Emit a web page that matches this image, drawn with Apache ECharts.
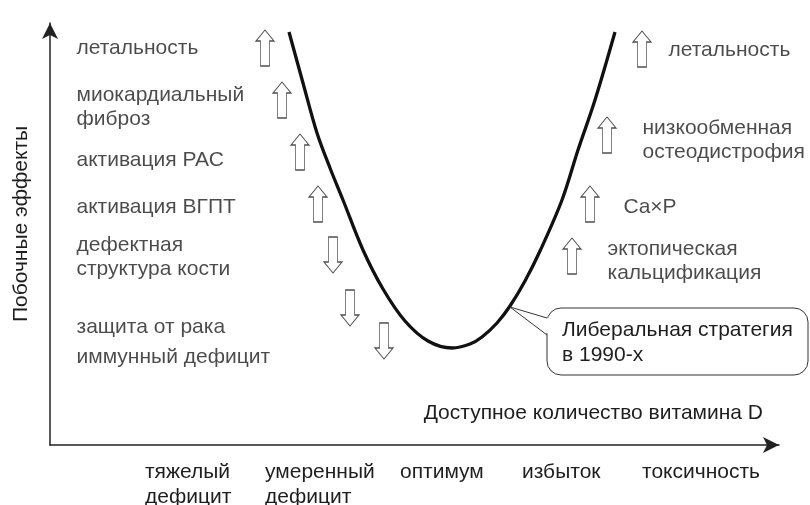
<!DOCTYPE html>
<html>
<head>
<meta charset="utf-8">
<script src="https://cdn.jsdelivr.net/npm/echarts@6/dist/echarts.min.js"></script>
<style>
  html, body { margin: 0; padding: 0; background: #fff; }
  #chart { width: 810px; height: 505px; }
</style>
</head>
<body>
<div id="chart"></div>
<script>
// ---- data (chart units) ----
const curveX = [239, 253, 267, 280, 293, 313, 333, 355, 378, 402, 420, 432, 447, 460, 475, 490, 512, 528, 545, 565];
const curveY = [413, 362, 312, 277, 245, 195, 156, 124, 104, 97, 101, 108, 122, 139, 164, 194, 245, 295, 345, 413];

const upArrowX = [215, 232, 250, 268, 592, 557, 540, 522];
const upArrowY = [397, 345, 293, 241, 396, 310, 241, 189];
const downArrowX = [283, 300, 334];
const downArrowY = [190, 137, 104];

const leftEffects = ['летальность', 'миокардиальный\nфиброз', 'активация РАС', 'активация ВГПТ',
                     'дефектная\nструктура кости', 'защита от рака', 'иммунный дефицит'];
const leftEffectX = [26, 26, 26, 26, 26, 26, 26];
const leftEffectY = [397, 338, 285, 238, 188, 118, 88];

const rightEffects = ['летальность', 'низкообменная\nостеодистрофия', 'Ca×P', 'эктопическая\nкальцификация'];
const rightEffectX = [618, 592, 573, 557];
const rightEffectY = [395, 305, 238, 184];

const tickLabels = ['тяжелый\nдефицит', 'умеренный\nдефицит', 'оптимум', 'избыток', 'токсичность'];
const tickValues = [95, 215, 350, 472, 592];

const xTitle = 'Доступное количество витамина D';
const yTitle = 'Побочные эффекты';
const calloutText = 'Либеральная стратегия\nв 1990-х';

// ---- chart ----
const FONT = '"Liberation Sans", Arial, sans-serif';
const FS = 21;
const TXT = '#1e1e1e';
const zip = (a, b) => a.map((v, i) => [v, b[i]]);

const UP = 'path://M9,0L18,11L13.5,11L13.5,36L4.5,36L4.5,11L0,11Z';
const DOWN = 'path://M4.5,0L13.5,0L13.5,25L18,25L9,36L0,25L4.5,25Z';

const chart = echarts.init(document.getElementById('chart'), null, { renderer: 'canvas' });

const textSeries = (names, xs, ys) => ({
  type: 'scatter',
  symbolSize: 1,
  itemStyle: { color: 'transparent' },
  silent: true,
  data: names.map((n, i) => ({ value: [xs[i], ys[i]], name: n })),
  label: {
    show: true, position: 'right', distance: 0,
    formatter: p => p.name,
    fontFamily: FONT, fontSize: FS, lineHeight: 24, color: TXT
  },
  z: 5
});

chart.setOption({
  animation: false,
  grid: { left: 50, right: 31, top: 23, bottom: 60, containLabel: false, outerBoundsMode: 'none' },
  xAxis: {
    type: 'value', min: 0, max: 729,
    splitLine: { show: false },
    axisTick: { show: false },
    axisLine: { show: true, symbol: ['none', 'arrow'], symbolSize: [12, 16],
                lineStyle: { color: '#222', width: 1.5 } },
    axisLabel: {
      show: true, customValues: tickValues, align: 'left', margin: 15,
      fontFamily: FONT, fontSize: FS, lineHeight: 25, color: TXT,
      hideOverlap: false,
      formatter: v => { const i = tickValues.indexOf(v); return i >= 0 ? tickLabels[i] : ''; }
    }
  },
  yAxis: {
    type: 'value', min: 0, max: 422,
    splitLine: { show: false },
    axisTick: { show: false },
    axisLabel: { show: false },
    axisLine: { show: true, symbol: ['none', 'arrow'], symbolSize: [12, 16],
                lineStyle: { color: '#222', width: 1.5 } },
    name: yTitle, nameLocation: 'middle', nameRotate: 90, nameGap: 18,
    nameTextStyle: { fontFamily: FONT, fontSize: FS, color: TXT, padding: [0, 0, 0, 20] }
  },
  series: [
    {
      type: 'line', data: zip(curveX, curveY), smooth: 0.35, symbol: 'none',
      lineStyle: { color: '#111', width: 3.3 }, silent: true, z: 3
    },
    {
      type: 'scatter', data: zip(upArrowX, upArrowY), symbol: UP, symbolSize: [18, 36],
      itemStyle: { color: '#fff', borderColor: '#222', borderWidth: 1 }, silent: true, z: 4
    },
    {
      type: 'scatter', data: zip(downArrowX, downArrowY), symbol: DOWN, symbolSize: [18, 36],
      itemStyle: { color: '#fff', borderColor: '#222', borderWidth: 1 }, silent: true, z: 4
    },
    textSeries(leftEffects, leftEffectX, leftEffectY),
    textSeries(rightEffects, rightEffectX, rightEffectY)
  ],
  graphic: [
    {
      type: 'text', x: 763, y: 413, z: 10,
      style: { text: xTitle, font: FS + 'px ' + FONT, fill: TXT, align: 'right', verticalAlign: 'middle' }
    },
    {
      type: 'rect', z: 10,
      shape: { x: 547, y: 308, width: 261, height: 67, r: 14 },
      style: { fill: '#fff', stroke: '#333', lineWidth: 1 }
    },
    {
      type: 'polygon', z: 11,
      shape: { points: [[510, 307], [549, 318.5], [549, 334.5]] },
      style: { fill: '#fff', stroke: null }
    },
    {
      type: 'polyline', z: 12,
      shape: { points: [[547, 318], [510, 307], [547, 335]] },
      style: { fill: null, stroke: '#333', lineWidth: 1 }
    },
    {
      type: 'text', x: 562, y: 343, z: 13,
      style: { text: calloutText, font: FS + 'px ' + FONT, lineHeight: 25, fill: TXT, align: 'left', verticalAlign: 'middle' }
    }
  ]
});
</script>
</body>
</html>
